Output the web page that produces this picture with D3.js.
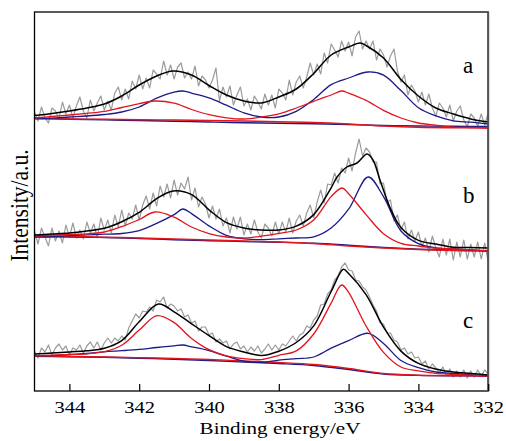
<!DOCTYPE html>
<html><head><meta charset="utf-8">
<script src="https://cdn.jsdelivr.net/npm/d3@7"></script>
<style>body{margin:0;background:#fff}svg{display:block}</style>
</head><body>
<svg id="chart" width="506" height="441"></svg>
<script>
// ---------- data ----------
const xTicks = [344, 342, 340, 338, 336, 334, 332];
const panelLabels = ["a", "b", "c"];
const xTitle = "Binding energy/eV";
const yTitle = "Intensity/a.u.";

// raw spectra, sampled every 0.1 eV from 345 eV down to 332 eV
const rawStart = 345, rawStep = 0.1;
const rawA = [279,270,284,273,268,283,280,272,289,277,
286,273,285,294,280,273,291,280,288,295,
281,290,281,298,304,291,302,292,310,302,
316,302,313,303,321,317,312,330,316,326,
312,324,328,313,319,312,325,305,315,311,
303,311,323,290,304,294,305,286,296,304,
285,292,281,295,289,282,297,286,296,283,
302,298,291,311,296,309,315,303,314,328,
316,327,317,338,328,347,341,334,350,340,
349,335,354,360,342,350,342,350,331,342,
336,324,335,342,320,309,316,296,306,300,
289,299,286,297,283,275,288,283,274,286,
270,280,285,271,264,277,273,265,277,266,
278];
const rawB = [160,147,163,154,145,163,150,160,148,166,
154,168,153,161,152,169,158,167,153,173,
161,171,158,176,164,181,165,178,172,186,
171,186,195,182,198,185,205,194,207,193,
211,196,208,202,214,191,203,184,194,187,
173,185,172,182,165,173,158,174,162,174,
156,167,157,171,159,153,167,163,155,169,
157,169,159,173,158,170,176,165,178,186,
173,189,201,188,207,206,218,208,223,218,
233,220,238,252,235,243,239,229,229,207,
208,189,191,170,176,161,169,152,161,150,
159,144,153,139,155,143,134,152,136,152,
131,149,134,151,132,147,134,149,132,148,
129];
const rawC = [40,33,43,39,46,36,43,47,41,45,
36,43,41,46,38,45,49,43,49,41,
48,53,48,53,50,55,51,63,70,77,
73,80,79,84,80,91,89,94,83,87,
85,80,82,74,76,68,70,60,64,64,
56,58,49,52,48,50,42,47,49,42,
45,39,44,40,45,38,42,47,41,46,
41,47,45,50,55,50,56,58,65,63,
71,75,86,87,97,101,111,115,124,128,
121,120,111,110,104,101,94,86,80,68,
67,58,58,51,49,41,43,37,39,33,
34,27,30,22,27,23,18,24,16,22,
14,20,14,21,13,20,14,21,15,21,
17];

// fitted envelopes and components: [binding energy, intensity]
const fitA = [[345,275.5],[344.5,277.5],[344,280],[343.5,283],[343,287],[342.5,295],[342,306],[341.5,315],[341.03,320],[340.5,316],[340,305.5],[339.5,296],[339,290],[338.5,288],[338,294],[337.5,302],[337,317.5],[336.5,336],[336,344],[335.67,348],[335.5,345.5],[335,333],[334.5,311.5],[334,295],[333.5,283],[333,277],[332.5,272],[332,269]];
const redA = [[345,273],[344.5,274.5],[344,276],[343.5,277.7],[343,279.7],[342.5,283.5],[342,287.4],[341.55,290],[341,287.8],[340.5,281.5],[340,276.3],[339.5,273.2],[339,272],[338.5,274],[338,277.2],[337.5,283],[337,289.7],[336.5,296],[336.19,300],[336,297.8],[335.5,290.6],[335,280.7],[334.5,273],[334,268],[333.5,265.8],[333,263.9],[332.5,263.5],[332,263]];
const blueA = [[345,272.5],[344.5,272.8],[344,274],[343.5,275],[343,276.5],[342.5,279],[342,284],[341.5,292.8],[341,298.9],[340.75,300],[340.5,297.9],[340,293.2],[339.5,285.8],[339,278.2],[338.5,274],[338,274],[337.5,279.7],[337,291.5],[336.5,306.4],[336,313],[335.44,319],[335,315.8],[334.5,300.4],[334,283.3],[333.5,275.1],[333,270.2],[332.5,268.8],[332,267]];
const bgRedA = [[345,272.5],[344,272],[343,271.7],[342,271.3],[341,271],[340,270.5],[339,270],[338,269.2],[337,268.5],[336,267],[335,265],[334,263.7],[333,263.2],[332,263]];
const bgBlueA = [[345,272.5],[344,271.8],[343,271.2],[342,270.5],[341,269.8],[340,269],[339,268.3],[338,267.8],[337,267.3],[336,266.5],[335,265.5],[334,265],[333,264.7],[332,264.5]];

const fitB = [[345,156],[344.5,157],[344,158],[343.5,160],[343,162.7],[342.5,169.3],[342,178.6],[341.5,192.4],[341.03,200],[340.5,196.4],[340,181.2],[339.5,168.4],[339,163.1],[338.5,161],[338,161],[337.5,164.9],[337,176.4],[336.5,203.2],[336.33,214],[336.05,224],[335.76,228],[335.47,237],[335.3,231],[335.1,211],[334.82,184],[334.5,163.4],[334,150.6],[333.5,147],[333,143.8],[332.5,143.4],[332,143]];
const redB = [[345,155],[344.5,155.8],[344,156.4],[343.5,157.1],[343,159],[342.5,164.4],[342,171.5],[341.55,179],[341,173.8],[340.5,164],[340,157.4],[339.5,154],[339,153],[338.5,154.8],[338,157.6],[337.5,161],[337,171],[336.5,194.4],[336.19,203],[336,197.2],[335.5,176.4],[335,157.3],[334.5,147.6],[334,145],[333.5,142.8],[333,142],[332.5,141],[332,140]];
const blueB = [[345,154],[344.5,154.2],[344,155.4],[343.5,156.1],[343,156.8],[342.5,157.5],[342,160.4],[341.5,167.6],[341,176.4],[340.75,182],[340.5,177.4],[340,165.1],[339.5,155.6],[339,152.2],[338.5,151.4],[338,152.2],[337.5,153],[337,154.1],[336.5,163],[336,181.8],[335.44,214],[335,194.3],[334.5,160],[334,147.4],[333.5,143.2],[333,142.1],[332.5,141],[332,140]];
const bgRedB = [[345,155],[344,154.5],[343,153.8],[342,153],[341,152],[340,151],[339,150],[338,149],[337,147.5],[336,145],[335,143],[334,141.5],[333,140.5],[332,140]];
const bgBlueB = [[345,154.5],[344,154],[343,153.5],[342,152.5],[341,151.3],[340,150.3],[339,149.5],[338,148.8],[337,147.8],[336,145.8],[335,143.5],[334,141.8],[333,140.7],[332,140.2]];

const fitC = [[345,37],[344.5,38],[344,39.1],[343.5,40.2],[343,42.7],[342.5,50.4],[342,69.2],[341.45,87],[341,79.2],[340.5,67.2],[340,55.4],[339.5,44.4],[339,39],[338.5,35.5],[338,39.8],[337.5,48.5],[337,65.1],[336.5,99.5],[336.15,121.7],[336,117.5],[335.5,96.4],[335,63.9],[334.5,39.9],[334,27.6],[333.5,22],[333,18.9],[332.5,17.5],[332,16]];
const redC = [[345,35],[344.5,35.8],[344,36.4],[343.5,37.1],[343,39.3],[342.5,45.7],[342,60.9],[341.49,75.3],[341,68.4],[340.5,52.6],[340,41.4],[339.5,35.2],[339,32.3],[338.5,31.4],[338,35.7],[337.5,40.1],[337,57],[336.5,87.9],[336.2,106],[336,98.6],[335.5,65],[335,38.6],[334.5,24],[334,20.2],[333.5,17.6],[333,16.7],[332.5,15.8],[332,15]];
const blueC = [[345,34.8],[344.5,35.3],[344,36.5],[343.5,37.5],[343,39.2],[342.5,40.3],[342,41.6],[341.5,43.5],[341,45.2],[340.75,46],[340.5,44.2],[340,40.4],[339.5,34.8],[339,29.8],[338.5,28.6],[338,30.9],[337.5,32.4],[337,34],[336.5,42.8],[336,50.4],[335.44,57.7],[335,47.6],[334.5,30.5],[334,23.3],[333.5,19],[333,17.6],[332.5,16.2],[332,15]];
const bgRedC = [[345,35],[344,34.5],[343,34],[342,33.3],[341,32.5],[340,31.5],[339,30],[338,28.5],[337,26.5],[336,22.5],[335,17.5],[334,15.8],[333,15.3],[332,15]];
const bgBlueC = [[345,34.8],[344,34.3],[343,33.7],[342,32.8],[341,31.8],[340,30.5],[339,29],[338,27.5],[337,25.5],[336,21.5],[335,17],[334,15.6],[333,15.2],[332,15]];

// ---------- drawing ----------
const COL = {raw: "#9b9b9b", red: "#e2141c", blue: "#1a1a88", fit: "#000000"};
const svg = d3.select("#chart");
const x = d3.scaleLinear().domain([345, 332]).range([34.5, 488.2]);
const y = d3.scaleLinear().domain([0, 379]).range([391, 12]);

svg.append("defs").append("clipPath").attr("id", "clip")
  .append("rect").attr("x", 34.5).attr("y", 12).attr("width", 453.7).attr("height", 379);
const g = svg.append("g").attr("clip-path", "url(#clip)");

const rawLine = d3.line().x((d, i) => x(rawStart - i * rawStep)).y(d => y(d));
const smooth = d3.line().x(d => x(d[0])).y(d => y(d[1])).curve(d3.curveCatmullRom.alpha(0.5));

const panels = [
  {raw: rawA, fit: fitA, red: redA, blue: blueA, bgR: bgRedA, bgB: bgBlueA},
  {raw: rawB, fit: fitB, red: redB, blue: blueB, bgR: bgRedB, bgB: bgBlueB},
  {raw: rawC, fit: fitC, red: redC, blue: blueC, bgR: bgRedC, bgB: bgBlueC}
];

panels.forEach(p => {
  g.append("path").attr("d", rawLine(p.raw)).attr("fill", "none")
    .attr("stroke", COL.raw).attr("stroke-width", 1.2).attr("stroke-linejoin", "round");
});
panels.forEach(p => {
  g.append("path").attr("d", smooth(p.bgB)).attr("fill", "none").attr("stroke", COL.blue).attr("stroke-width", 1.4);
  g.append("path").attr("d", smooth(p.bgR)).attr("fill", "none").attr("stroke", COL.red).attr("stroke-width", 1.4);
  g.append("path").attr("d", smooth(p.blue)).attr("fill", "none").attr("stroke", COL.blue).attr("stroke-width", 1.3);
  g.append("path").attr("d", smooth(p.red)).attr("fill", "none").attr("stroke", COL.red).attr("stroke-width", 1.3);
  g.append("path").attr("d", smooth(p.fit)).attr("fill", "none").attr("stroke", COL.fit).attr("stroke-width", 1.5);
});

// frame
svg.append("rect").attr("x", 34.5).attr("y", 12).attr("width", 453.7).attr("height", 379)
  .attr("fill", "none").attr("stroke", "#000").attr("stroke-width", 1.3);
svg.append("line").attr("x1", 488.2).attr("x2", 488.2).attr("y1", 12).attr("y2", 391)
  .attr("stroke", "#555").attr("stroke-width", 2);

// x axis (ticks inside)
const xAxis = d3.axisBottom(x).tickValues(xTicks).tickSizeInner(-7).tickSizeOuter(0).tickFormat(d3.format("d"));
const ax = svg.append("g").attr("transform", "translate(0,391)").call(xAxis);
ax.select(".domain").remove();
ax.selectAll(".tick line").attr("stroke", "#000").attr("stroke-width", 1.2);
ax.selectAll(".tick text")
  .attr("y", 22).attr("dy", null)
  .attr("transform", "scale(1.28,1)")
  .attr("fill", "#000")
  .style("font-family", "'Liberation Serif', 'Times New Roman', serif")
  .style("font-size", "16px");

// titles
svg.append("text").attr("transform", "translate(280,434) scale(1.28,1)")
  .attr("text-anchor", "middle")
  .style("font-family", "'Liberation Serif', 'Times New Roman', serif").style("font-size", "16.5px")
  .text(xTitle);
svg.append("text").attr("transform", "translate(28,205.5) scale(1.15,1) rotate(-90)")
  .attr("text-anchor", "middle")
  .style("font-family", "'Liberation Serif', 'Times New Roman', serif").style("font-size", "21.5px")
  .text(yTitle);

// panel labels
const labelBase = [72.7, 202.7, 327.7];
panelLabels.forEach((t, i) => {
  svg.append("text").attr("x", 463).attr("y", labelBase[i])
    .style("font-family", "'Liberation Serif', 'Times New Roman', serif").style("font-size", "23px")
    .text(t);
});
</script>
</body></html>
